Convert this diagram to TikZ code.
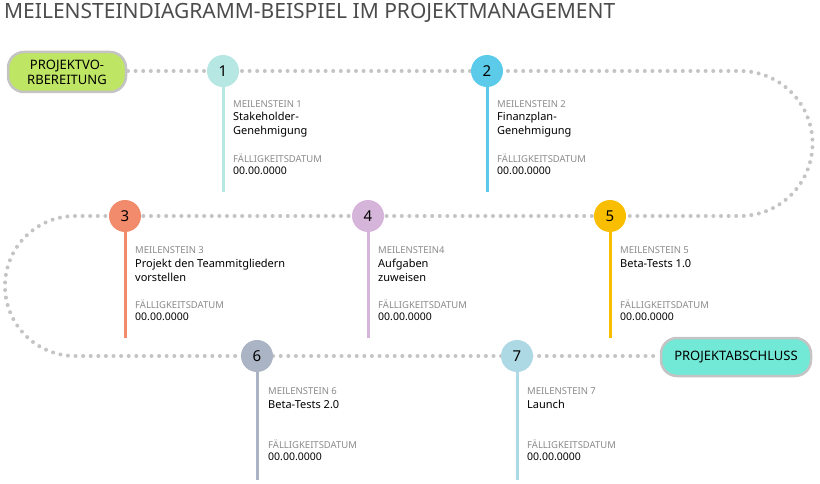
\documentclass[tikz,border=0pt]{standalone}
\usepackage{fontspec}
\setmainfont{Noto Sans}
\usetikzlibrary{positioning}
\definecolor{pathgray}{HTML}{C4C4C4}
\definecolor{labgray}{HTML}{8A8A8A}
\definecolor{cA}{HTML}{B6E7E3}
\definecolor{cB}{HTML}{5CCBEA}
\definecolor{cC}{HTML}{F28B6C}
\definecolor{cD}{HTML}{D6B5DA}
\definecolor{cE}{HTML}{F9BE00}
\definecolor{cF}{HTML}{AAB4C5}
\definecolor{cG}{HTML}{ADD9E4}
\definecolor{startgreen}{HTML}{BEE563}
\definecolor{endcyan}{HTML}{72E8D6}
\tikzset{
  ms/.style={circle, fill=#1, minimum size=32pt, inner sep=0pt, font=\fontsize{15}{15}\selectfont},
  pill/.style={rounded corners=16pt, fill=#1, draw=pathgray, line width=2.5pt, align=center, font=\fontsize{13}{15}\selectfont},
  dotline/.style={pathgray, line width=4pt, line cap=round, dash pattern=on 0pt off 7.6pt},
  stem/.style={line width=3pt, #1},
  lab/.style={anchor=west, inner sep=0pt, text=labgray, font=\fontsize{9.5}{11}\selectfont},
  ttl/.style={anchor=north west, inner sep=0pt, align=left, font=\fontsize{11}{14}\selectfont},
  dat/.style={anchor=west, inner sep=0pt, font=\fontsize{10.5}{12}\selectfont},
}
\begin{document}
\begin{tikzpicture}[x=1pt,y=-1pt]
\useasboundingbox (0,0) rectangle (820,484);
\node[anchor=west, inner sep=0pt, text=black!70, font=\fontsize{21}{22}\selectfont] (title) at (4,13) {MEILENSTEINDIAGRAMM-BEISPIEL IM PROJEKTMANAGEMENT};

% path
\draw[dotline] (128,71) -- (740,71) arc[start angle=270, end angle=450, radius=72.5]
  -- (75,216) arc[start angle=270, end angle=90, radius=70] -- (660,356);

\node[pill=startgreen, minimum width=118pt, minimum height=40pt] (start) at (67,72) {PROJEKTVO-\\RBEREITUNG};
\node[pill=endcyan, minimum width=150pt, minimum height=38pt] (stop) at (736,357) {PROJEKTABSCHLUSS};

% milestones
\foreach \n/\x/\y/\c/\len in {1/223/71/cA/121, 2/487/71/cB/121, 3/125/216/cC/122, 4/368/216/cD/122, 5/610/216/cE/122, 6/257/356/cF/124, 7/517/356/cG/124}{
  \coordinate (e\n) at (\x,\y+\len);
  \draw[stem=\c] (\x,\y) -- (e\n);
  \node[ms=\c] (m\n) at (\x,\y) {\n};
}

\node[lab] (l1) at (233,104) {MEILENSTEIN 1};
\node[ttl] (t1) at (233,112) {Stakeholder-\\Genehmigung};
\node[lab] (f1) at (233,158) {FÄLLIGKEITSDATUM};
\node[dat] (d1) at (233,171) {00.00.0000};

\node[lab] (l2) at (497,104) {MEILENSTEIN 2};
\node[ttl] (t2) at (497,112) {Finanzplan-\\Genehmigung};
\node[lab] (f2) at (497,158) {FÄLLIGKEITSDATUM};
\node[dat] (d2) at (497,171) {00.00.0000};

\node[lab] (l3) at (135,250) {MEILENSTEIN 3};
\node[ttl] (t3) at (135,259) {Projekt den Teammitgliedern\\vorstellen};
\node[lab] (f3) at (135,304) {FÄLLIGKEITSDATUM};
\node[dat] (d3) at (135,317) {00.00.0000};

\node[lab] (l4) at (378,250) {MEILENSTEIN4};
\node[ttl] (t4) at (378,259) {Aufgaben\\zuweisen};
\node[lab] (f4) at (378,304) {FÄLLIGKEITSDATUM};
\node[dat] (d4) at (378,317) {00.00.0000};

\node[lab] (l5) at (620,250) {MEILENSTEIN 5};
\node[ttl] (t5) at (620,259) {Beta-Tests 1.0};
\node[lab] (f5) at (620,304) {FÄLLIGKEITSDATUM};
\node[dat] (d5) at (620,317) {00.00.0000};

\node[lab] (l6) at (268,391) {MEILENSTEIN 6};
\node[ttl] (t6) at (268,400) {Beta-Tests 2.0};
\node[lab] (f6) at (268,444) {FÄLLIGKEITSDATUM};
\node[dat] (d6) at (268,457) {00.00.0000};

\node[lab] (l7) at (527,391) {MEILENSTEIN 7};
\node[ttl] (t7) at (527,400) {Launch};
\node[lab] (f7) at (527,444) {FÄLLIGKEITSDATUM};
\node[dat] (d7) at (527,457) {00.00.0000};
\end{tikzpicture}
\end{document}
